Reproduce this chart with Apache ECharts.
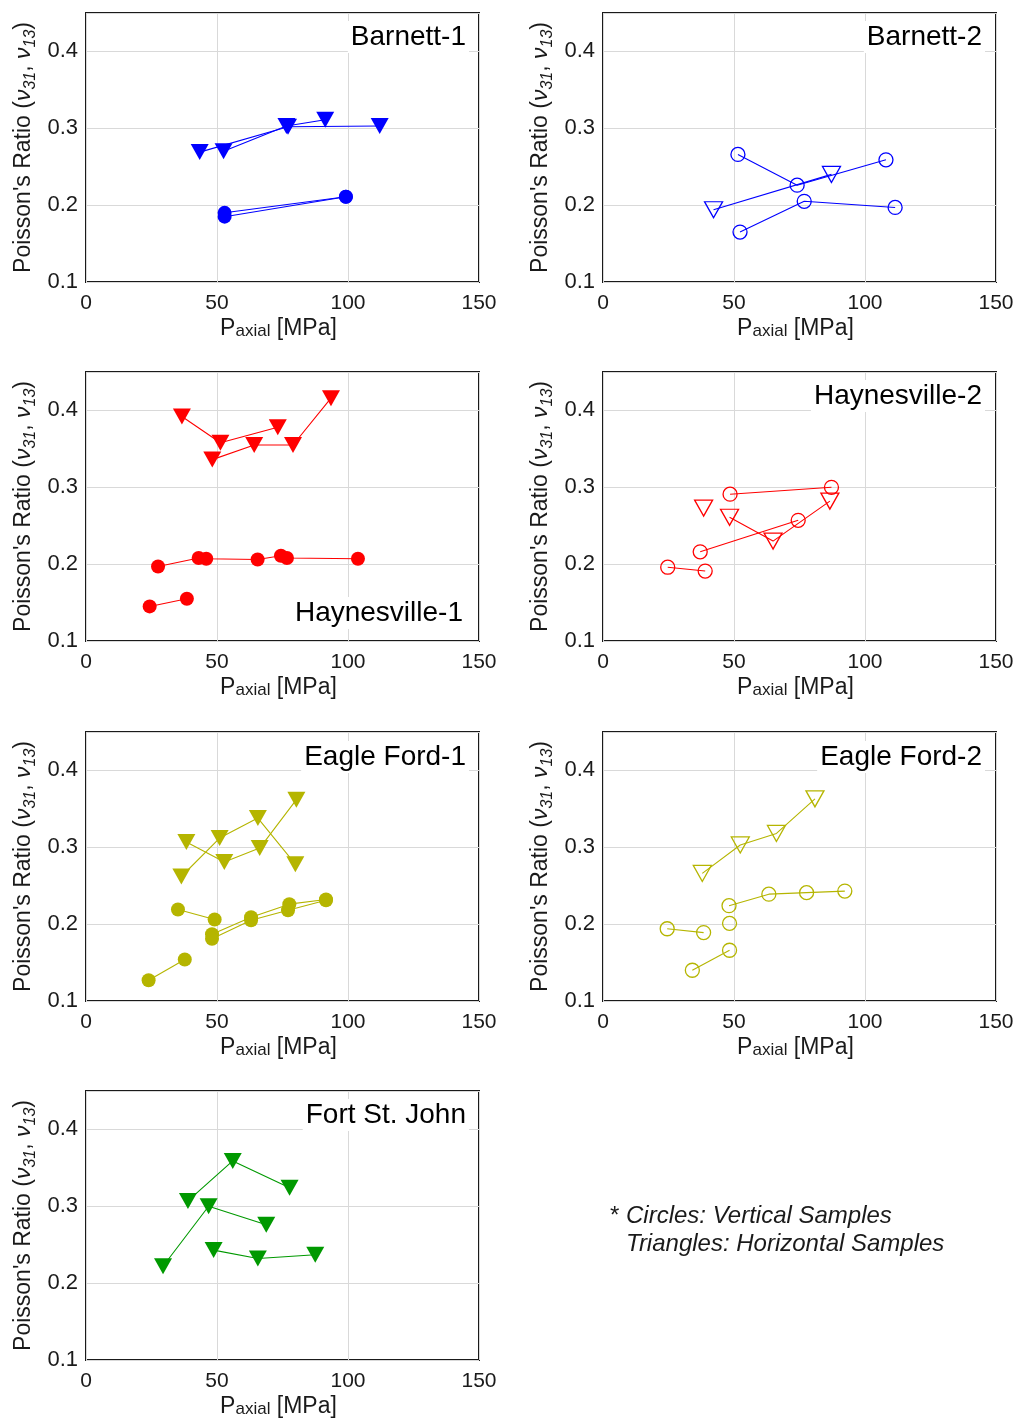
<!DOCTYPE html>
<html>
<head>
<meta charset="utf-8">
<script src="https://cdn.jsdelivr.net/npm/echarts@6/dist/echarts.min.js"></script>
<style>
html,body{margin:0;padding:0;background:#fff;}
#chart{width:1020px;height:1427px;}
</style>
</head>
<body>
<div id="chart"></div>
<script>
// ---------- DATA (x = P_axial [MPa], y = Poisson's ratio) ----------
var xTicks = [0, 50, 100, 150];
var yTicks = [0.1, 0.2, 0.3, 0.4];

// Barnett-1 (blue, filled)
var barnett1TriA = [[43.4, 0.269], [77.1, 0.302], [112.1, 0.303]];
var barnett1TriB = [[52.5, 0.270], [76.5, 0.303], [91.3, 0.311]];
var barnett1CirA = [[52.9, 0.190], [99.2, 0.211]];
var barnett1CirB = [[52.9, 0.185], [99.2, 0.211]];

// Barnett-2 (blue, open)
var barnett2CirA = [[51.5, 0.266], [74.1, 0.226], [108.0, 0.259]];
var barnett2CirB = [[52.3, 0.165], [76.8, 0.205], [111.5, 0.197]];
var barnett2TriA = [[42.2, 0.194], [87.2, 0.240]];

// Haynesville-1 (red, filled)
var hay1TriA = [[36.6, 0.392], [51.3, 0.358], [73.2, 0.378]];
var hay1TriB = [[48.2, 0.336], [64.2, 0.355], [79.0, 0.355], [93.5, 0.416]];
var hay1CirA = [[27.5, 0.197], [43.0, 0.208], [45.9, 0.207], [65.5, 0.206], [74.4, 0.211], [76.7, 0.208], [103.8, 0.207]];
var hay1CirB = [[24.3, 0.145], [38.5, 0.155]];

// Haynesville-2 (red, open)
var hay2CirA = [[48.5, 0.291], [87.2, 0.300]];
var hay2CirB = [[37.1, 0.216], [74.5, 0.257]];
var hay2CirC = [[24.7, 0.196], [39.0, 0.191]];
var hay2TriA = [[48.3, 0.261], [64.9, 0.230], [86.6, 0.282]];
var hay2TriB = [[38.4, 0.273]];

// Eagle Ford-1 (olive, filled)
var ef1TriA = [[38.3, 0.307], [52.8, 0.281], [66.3, 0.299], [80.3, 0.362]];
var ef1TriB = [[36.4, 0.262], [51.0, 0.312], [65.6, 0.338], [79.9, 0.278]];
var ef1CirA = [[35.1, 0.219], [49.1, 0.206]];
var ef1CirB = [[48.1, 0.187], [63.0, 0.209], [77.6, 0.226], [91.6, 0.232]];
var ef1CirC = [[48.1, 0.181], [63.0, 0.205], [77.1, 0.218], [91.6, 0.231]];
var ef1CirD = [[23.9, 0.127], [37.7, 0.154]];

// Eagle Ford-2 (olive, open)
var ef2TriA = [[37.9, 0.266], [52.4, 0.303], [66.2, 0.318], [80.9, 0.363]];
var ef2CirA = [[48.1, 0.224], [63.3, 0.239], [77.7, 0.241], [92.3, 0.243]];
var ef2CirB = [[48.3, 0.201]];
var ef2CirC = [[24.5, 0.194], [38.4, 0.189]];
var ef2CirD = [[34.1, 0.140], [48.3, 0.166]];

// Fort St. John (green, filled)
var fsjTriA = [[38.9, 0.307], [56.0, 0.359], [77.7, 0.324]];
var fsjTriB = [[29.4, 0.222], [46.8, 0.300], [68.8, 0.276]];
var fsjTriC = [[48.7, 0.243], [65.6, 0.232], [87.5, 0.237]];

var panelNames = ['Barnett-1', 'Barnett-2', 'Haynesville-1', 'Haynesville-2', 'Eagle Ford-1', 'Eagle Ford-2', 'Fort St. John'];
var noteLine1 = 'Circles: Vertical Samples';
var noteLine2 = 'Triangles: Horizontal Samples';

// ---------- STYLE ----------
var FONT = "'Liberation Sans', Arial, Helvetica, sans-serif";
var BLUE = '#0000ff', RED = '#ff0000', OLIVE = '#b5b500', GREEN = '#009900';

var panels = [
  {left: 86,  top: 13,   title: {right: 551, top: 21}},
  {left: 603, top: 13,   title: {right: 35,  top: 21}},
  {left: 86,  top: 372,  title: {right: 554, top: 597}},
  {left: 603, top: 372,  title: {right: 35,  top: 380}},
  {left: 86,  top: 732,  title: {right: 551, top: 741}},
  {left: 603, top: 732,  title: {right: 35,  top: 741}},
  {left: 86,  top: 1091, title: {right: 551, top: 1099}}
];

var grids = [], xAxes = [], yAxes = [], titles = [];
panels.forEach(function (p, i) {
  grids.push({left: p.left, top: p.top, width: 393, height: 269, show: true,
    borderColor: '#1a1a1a', borderWidth: 2, backgroundColor: '#fff', containLabel: false});
  xAxes.push({type: 'value', gridIndex: i, min: xTicks[0], max: xTicks[xTicks.length - 1], interval: 50,
    axisLine: {show: false}, axisTick: {show: false},
    splitLine: {show: true, lineStyle: {color: '#d9d9d9', width: 1}},
    axisLabel: {fontFamily: FONT, fontSize: 21, color: '#1a1a1a', margin: 11},
    name: 'P{sub|axial} [MPa]', nameLocation: 'middle', nameGap: 35, nameMoveOverlap: false,
    nameTextStyle: {fontFamily: FONT, fontSize: 23, color: '#1a1a1a', padding: [0, 8, 0, 0],
      rich: {sub: {fontFamily: FONT, fontSize: 17, color: '#1a1a1a', verticalAlign: 'bottom', lineHeight: 17, padding: [16, 0, 0, 0]}}}
  });
  yAxes.push({type: 'value', gridIndex: i, min: 0.1, max: 0.45, interval: 0.1,
    axisLine: {show: false}, axisTick: {show: false},
    splitLine: {show: true, lineStyle: {color: '#d9d9d9', width: 1}},
    axisLabel: {fontFamily: FONT, fontSize: 22, color: '#1a1a1a', margin: 8,
      formatter: function (v) { return v > 0.44 ? '' : v.toFixed(1); }},
    name: "Poisson's Ratio ({nu|ν}{sub|31}, {nu|ν}{sub|13})", nameLocation: 'middle', nameGap: 47, nameMoveOverlap: false,
    nameTextStyle: {fontFamily: FONT, fontSize: 23, color: '#1a1a1a',
      rich: {
        nu: {fontFamily: FONT, fontSize: 23, fontStyle: 'italic', color: '#1a1a1a'},
        sub: {fontFamily: FONT, fontSize: 16, fontStyle: 'italic', color: '#1a1a1a', verticalAlign: 'bottom', padding: [14, 0, 0, 0]}
      }}
  });
  titles.push({text: panelNames[i], right: p.title.right, top: p.title.top,
    backgroundColor: '#fff', padding: [2, 3, 2, 3],
    textStyle: {fontFamily: FONT, fontSize: 28, fontWeight: 'normal', color: '#000'}});
});

function mk(data, idx, color, shape, filled) {
  var isTri = shape === 'tri';
  return {
    type: 'line', xAxisIndex: idx, yAxisIndex: idx, data: data,
    symbol: isTri ? 'triangle' : 'circle',
    symbolRotate: isTri ? 180 : 0,
    symbolSize: isTri ? [18, 16] : 14,
    showSymbol: true, showAllSymbol: true,
    lineStyle: {color: color, width: 1.1},
    itemStyle: filled ? {color: color, borderWidth: 0} : {color: 'rgba(255,255,255,0)', borderColor: color, borderWidth: 1.3},
    emphasis: {disabled: true},
    z: 3
  };
}

var series = [
  mk(barnett1TriA, 0, BLUE, 'tri', true), mk(barnett1TriB, 0, BLUE, 'tri', true),
  mk(barnett1CirA, 0, BLUE, 'cir', true), mk(barnett1CirB, 0, BLUE, 'cir', true),
  mk(barnett2CirA, 1, BLUE, 'cir', false), mk(barnett2CirB, 1, BLUE, 'cir', false),
  mk(barnett2TriA, 1, BLUE, 'tri', false),
  mk(hay1TriA, 2, RED, 'tri', true), mk(hay1TriB, 2, RED, 'tri', true),
  mk(hay1CirA, 2, RED, 'cir', true), mk(hay1CirB, 2, RED, 'cir', true),
  mk(hay2CirA, 3, RED, 'cir', false), mk(hay2CirB, 3, RED, 'cir', false), mk(hay2CirC, 3, RED, 'cir', false),
  mk(hay2TriA, 3, RED, 'tri', false), mk(hay2TriB, 3, RED, 'tri', false),
  mk(ef1TriA, 4, OLIVE, 'tri', true), mk(ef1TriB, 4, OLIVE, 'tri', true),
  mk(ef1CirA, 4, OLIVE, 'cir', true), mk(ef1CirB, 4, OLIVE, 'cir', true),
  mk(ef1CirC, 4, OLIVE, 'cir', true), mk(ef1CirD, 4, OLIVE, 'cir', true),
  mk(ef2TriA, 5, OLIVE, 'tri', false), mk(ef2CirA, 5, OLIVE, 'cir', false),
  mk(ef2CirB, 5, OLIVE, 'cir', false), mk(ef2CirC, 5, OLIVE, 'cir', false), mk(ef2CirD, 5, OLIVE, 'cir', false),
  mk(fsjTriA, 6, GREEN, 'tri', true), mk(fsjTriB, 6, GREEN, 'tri', true), mk(fsjTriC, 6, GREEN, 'tri', true)
];

var chart = echarts.init(document.getElementById('chart'), null, {renderer: 'canvas'});
chart.setOption({
  animation: false,
  backgroundColor: '#fff',
  title: titles,
  grid: grids,
  xAxis: xAxes,
  yAxis: yAxes,
  series: series,
  graphic: [
    {type: 'text', left: 609, top: 1204, style: {text: '*', font: 'italic 24px ' + FONT, fill: '#1a1a1a'}},
    {type: 'text', left: 626, top: 1204, style: {text: noteLine1, font: 'italic 24px ' + FONT, fill: '#1a1a1a'}},
    {type: 'text', left: 626, top: 1232, style: {text: noteLine2, font: 'italic 24px ' + FONT, fill: '#1a1a1a'}}
  ]
});
</script>
</body>
</html>
